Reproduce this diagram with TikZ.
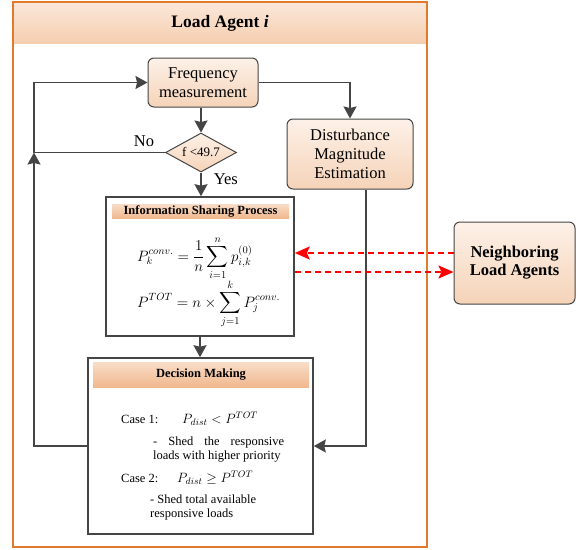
\RequirePackage{fix-cm}
\documentclass[tikz,border=0pt]{standalone}
\usepackage{amsmath,amssymb}
\usepackage{fontspec}
\setmainfont{Liberation Serif}
\usepackage{xcolor}
\usetikzlibrary{arrows.meta,shapes.geometric}

\definecolor{linegray}{HTML}{454545}
\definecolor{frameorange}{HTML}{E07A2E}
\definecolor{boxtop}{HTML}{FDF1E8}
\definecolor{boxbot}{HTML}{F5D3B8}
\definecolor{bandtop}{HTML}{F9DDC8}
\definecolor{bandbot}{HTML}{F0B88E}
\definecolor{headtop}{HTML}{FBE8DA}
\definecolor{headbot}{HTML}{F5CEB0}

\begin{document}
\begin{tikzpicture}[x=1pt, y=-1pt,
  block/.style={draw=linegray, line width=1pt, rounded corners=6pt,
    top color=boxtop, bottom color=boxbot, align=center, inner sep=0pt},
  panel/.style={draw=linegray, line width=1.6pt, fill=white, inner sep=0pt},
  band/.style={top color=bandtop, bottom color=bandbot, inner sep=0pt,
    font=\fontsize{12.5}{14}\selectfont\bfseries},
  note/.style={anchor=base west, inner sep=0pt, font=\fontsize{12.5}{14}\selectfont},
  eq/.style={anchor=base west, inner sep=0pt, font=\fontsize{15}{17}\selectfont},
  arrow/.style={-{Stealth[length=12pt,width=13pt,inset=1.5pt]}, line width=1.6pt, draw=linegray},
  line/.style={line width=1.6pt, draw=linegray},
  link/.style={-{Stealth[length=15pt,width=13pt,inset=3pt]}, line width=2.2pt, red,
    dash pattern=on 6pt off 4pt},
  every node/.style={font=\fontsize{16.5}{19}\selectfont}
]
\useasboundingbox (0,0) rectangle (588,549);

% Load agent frame
\node[draw=none, top color=headtop, bottom color=headbot, minimum width=414pt,
  minimum height=41pt, inner sep=0pt] (head) at (220,22.5) {};
\node[font=\fontsize{17.5}{20}\selectfont\bfseries] (title) at (220,23) {Load Agent \textit{i}};
\node[draw=frameorange, line width=1.5pt, minimum width=414pt, minimum height=545pt,
  inner sep=0pt] (agent) at (220,274.5) {};

% Measurement, check and estimation
\node[block, minimum width=110pt, minimum height=49pt] (freq) at (203,82.5) {Frequency\\measurement};
\node[diamond, aspect=1.8, draw=linegray, line width=1pt, top color=boxtop, bottom color=boxbot,
  minimum width=71pt, minimum height=39pt, inner sep=0pt,
  font=\fontsize{13}{15}\selectfont] (check) at (201,152.5) {f <49.7};
\node[block, minimum width=126pt, minimum height=70pt] (dist) at (350,154) {Disturbance\\Magnitude\\Estimation};

% Information sharing process
\node[panel, minimum width=188pt, minimum height=139pt] (info) at (200,266.5) {};
\node[band, minimum width=177pt, minimum height=14pt] (infohead) at (200.5,211) {Information Sharing Process};
\node[eq] (eqconv) at (137,261)
  {$\displaystyle P_k^{conv.} = \frac{1}{n}\sum_{i=1}^{n} p_{i,k}^{(0)}$};
\node[eq] (eqtot) at (137,307)
  {$\displaystyle P^{TOT} = n\times\sum_{j=1}^{k} P_j^{conv.}$};

% Decision making
\node[panel, minimum width=225pt, minimum height=176pt] (decision) at (200.5,446) {};
\node[band, minimum width=216pt, minimum height=25pt] (dechead) at (201,374.5) {Decision Making};
\node[note] (case1) at (121,423) {Case 1:};
\node[eq, font=\fontsize{13.5}{16}\selectfont] (cond1) at (182,423) {$P_{dist} < P^{TOT}$};
\node[note] (shed1a) at (153,445) {\makebox[131pt][s]{- Shed the responsive}};
\node[note] (shed1b) at (153,459) {loads with higher priority};
\node[note] (case2) at (121,482) {Case 2:};
\node[eq, font=\fontsize{13.5}{16}\selectfont] (cond2) at (177,482) {$P_{dist} \geq P^{TOT}$};
\node[note] (shed2a) at (150,503) {- Shed total available};
\node[note] (shed2b) at (150,517) {responsive loads};

% Neighbouring agents
\node[block, font=\fontsize{16.5}{18}\selectfont\bfseries, minimum width=121pt,
  minimum height=82pt] (neighbor) at (514.5,263) {Neighboring\\Load Agents};

% Connectors
\coordinate (loopup) at (34,152.5);
\draw[arrow] (check.north |- freq.south) -- (check.north);
\draw[arrow] (check.south) -- node[pos=0.3, right=12pt, inner sep=0pt] {Yes} (check.south |- info.north);
\draw[line] (check.west) -- node[pos=0.16, above=5pt, inner sep=0pt] {No} (loopup);
\draw[arrow] (decision.west) -| (loopup);
\draw[arrow] (loopup) |- (freq.west);
\draw[arrow] (freq.east) -| (dist.north);
\draw[arrow] ([xshift=16pt]dist.south) |- (decision.east);
\draw[arrow] (info.south) -- (info.south |- decision.north);
\draw[link] ([yshift=10pt]neighbor.west) -- ([yshift=10pt]neighbor.west -| info.east);
\draw[link] ([yshift=-9pt]neighbor.west -| info.east) -- ([yshift=-9pt]neighbor.west);

\end{tikzpicture}
\end{document}
